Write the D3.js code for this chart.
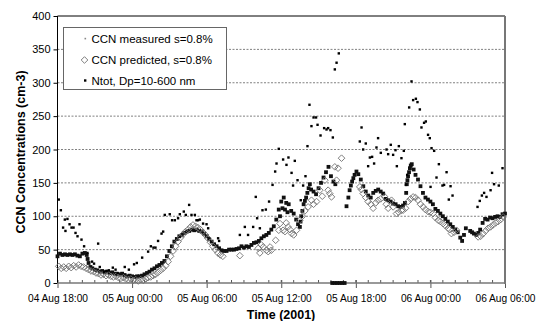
<!DOCTYPE html>
<html>
<head>
<meta charset="utf-8">
<script src="https://cdn.jsdelivr.net/npm/d3@7"></script>
<style>
  body { margin: 0; background: #fff; }
  svg { font-family: "Liberation Sans", Arial, sans-serif; }
</style>
</head>
<body>
<div id="chart"></div>
<script>
// hours after 04 Aug 2001 18:00, value in cm-3
const ccnMeasured = [
  [0.0,40],[0.2,44],[0.4,42],[0.6,43],[0.8,42],[1.0,43],[1.2,42],[1.4,43],[1.6,41],[1.8,40],[2.0,44],[2.2,45],[2.35,42],[2.42,36],[2.5,30],[2.65,24],[2.8,22],
  [3.0,20],[3.2,19],[3.4,17],[3.6,18],[3.8,16],[4.0,17],[4.2,15],[4.4,16],[4.6,14],[4.8,13],[5.0,13],[5.2,14],[5.4,12],[5.6,10],[5.8,11],
  [6.0,10],[6.2,9],[6.4,10],[6.6,10],[6.8,11],[7.0,13],[7.2,15],[7.4,17],[7.6,20],[7.8,22],[8.0,25],[8.2,27],[8.4,30],[8.6,33],[8.8,40],
  [9.0,48],[9.2,55],[9.4,62],[9.6,66],[9.8,70],[10.0,72],[10.2,75],[10.4,77],[10.6,78],[10.8,80],[11.0,79],[11.2,80],[11.4,78],[11.6,77],[11.8,74],
  [12.0,70],[12.2,66],[12.4,62],[12.6,58],[12.8,55],[13.0,52],[13.2,49],[13.4,48],[13.6,48],[13.8,50],[14.0,50],[14.2,50],[14.4,51],[14.6,52],[14.8,55],
  [15.0,53],[15.2,55],[15.4,54],[15.6,57],[15.8,60],[16.0,61],[16.2,63],[16.4,67],[16.6,70],[16.8,72],[17.0,75],[17.2,80],[17.4,85],[17.6,95],[17.8,110],[17.9,100],
  [18.0,122],[18.1,112],[18.2,128],[18.3,110],[18.4,120],[18.5,106],[18.6,118],[18.8,108],[19.0,104],[19.2,95],[19.35,88],[19.5,84],[19.55,92],[19.6,100],[19.7,108],[19.8,118],[19.9,123],
  [20.0,128],[20.1,135],[20.2,142],[20.3,148],[20.4,140],[20.6,137],[20.8,133],[21.0,142],[21.2,150],[21.4,158],[21.6,166],[21.8,174],[22.0,160],[22.2,152],[22.35,148],
  [22.1,0],[22.3,0],[22.5,0],[22.7,0],[22.9,0],[23.1,0],
  [23.25,115],[23.4,128],[23.5,139],[23.6,146],[23.7,152],[23.8,157],[23.9,162],[24.05,167],[24.2,163],[24.4,155],[24.6,145],[24.8,137],
  [25.0,131],[25.2,128],[25.4,135],[25.6,138],[25.8,140],[26.0,137],[26.2,134],[26.4,126],[26.6,124],[26.8,122],[27.0,119],[27.2,118],[27.4,115],[27.6,114],[27.8,116],[27.95,120],
  [28.05,135],[28.1,148],[28.15,154],[28.2,160],[28.28,166],[28.35,172],[28.42,176],[28.5,178],[28.65,170],[28.8,162],[29.0,155],[29.2,145],[29.4,135],[29.6,128],[29.8,125],
  [30.0,122],[30.2,118],[30.4,111],[30.6,108],[30.8,104],[31.0,100],[31.2,96],[31.4,92],[31.6,88],[31.8,84],[32.0,80],[32.2,76],[32.4,68],[32.55,63],[32.7,72],[32.85,82],
  [33.2,78],[33.35,76],[33.5,74],[33.7,72],[33.85,75],[34.0,80],[34.2,90],[34.4,96],[34.6,95],[34.8,98],[35.0,97],[35.2,99],[35.4,100],[35.6,99],[35.8,103],[36.0,104]
];

const ccnPredicted = [
  [0.1,25],[0.3,22],[0.5,24],[0.7,22],[0.9,25],[1.1,23],[1.3,26],[1.5,24],[1.7,27],[1.9,25],[2.1,24],[2.3,22],[2.5,20],[2.7,18],[2.9,17],
  [3.1,15],[3.3,14],[3.5,12],[3.7,13],[3.9,11],[4.1,12],[4.3,10],[4.5,9],[4.7,10],[4.9,8],[5.1,7],[5.3,8],[5.5,6],[5.7,5],[5.9,6],
  [6.1,4],[6.3,5],[6.5,3],[6.7,5],[6.9,4],[7.1,6],[7.3,8],[7.5,9],[7.7,11],[7.9,13],[8.1,16],[8.3,19],[8.5,22],[8.7,26],[8.9,32],
  [9.1,40],[9.3,48],[9.5,55],[9.7,62],[9.9,68],[10.1,73],[10.3,77],[10.5,80],[10.7,84],[10.9,87],[11.1,85],[11.3,83],[11.5,80],[11.7,76],[11.9,72],
  [12.1,67],[12.3,61],[12.5,55],[12.7,50],[12.9,45],[13.1,42],[13.3,40],
  [14.67,41],[16.15,52],[16.28,45],[16.4,57],[16.55,54],[16.8,49],[16.95,47],[17.1,54],[17.2,49],[17.55,64],[17.8,79],[17.9,89],[18.15,79],[18.3,77],
  [18.4,90],[18.55,84],[18.7,80],[18.83,74],[19.0,72],[19.23,79],[19.49,94],[19.7,100],[19.9,108],[20.16,114],[20.43,124],[20.6,118],[20.84,122],
  [21.10,139],[21.3,130],[21.51,154],[21.77,139],[21.9,134],[22.04,129],[22.31,174],[22.45,154],[22.57,172],[22.85,187],
  [24.32,144],[24.45,140],[24.59,134],[24.8,128],[24.99,122],[25.2,118],[25.39,112],[25.6,120],[25.79,124],[26.0,126],[26.33,129],[26.45,118],[26.60,112],[26.87,124],
  [27.0,114],[27.27,104],[27.45,106],[27.67,109],[27.80,109],[28.0,112],[28.21,122],[28.4,126],[28.61,129],[28.8,128],[29.01,124],[29.2,118],[29.41,114],[29.6,110],[29.81,107],
  [30.0,106],[30.21,104],[30.4,98],[30.62,94],[30.8,92],[31.02,89],[31.2,86],[31.42,82],[31.55,80],[31.69,74],[31.9,76],[32.10,79],
  [33.84,69],[34.04,70],[34.24,74],[34.44,78],[34.64,82],[34.84,84],[35.04,87],[35.25,90],[35.45,92],[35.65,95],[35.85,99]
];

const ntot = [
  [0.10,125],[0.27,109],[0.45,83],[0.59,95],[0.64,78],[0.80,96],[0.97,88],[1.13,83],[1.29,83],[1.45,75],[1.61,70],[1.77,88],[1.93,65],
  [2.14,55],[2.41,45],[2.78,32],[2.94,29],[3.27,59],[3.40,24],[3.75,17],[3.94,18],[4.13,19],[4.45,23],[4.67,20],[4.83,15],
  [5.41,24],[5.74,20],[6.16,28],[6.38,30],[6.81,38],[7.29,47],[7.51,55],[7.72,53],[7.88,53],[8.09,63],[8.37,74],[8.50,77],[8.63,102],
  [9.03,103],[9.22,94],[9.44,94],[9.70,97],[9.84,103],[10.16,107],[10.32,102],[10.59,117],[10.78,102],[11.05,102],[11.18,94],[11.31,94],[11.45,95],
  [11.71,89],[11.99,88],[12.12,82],[12.92,67],[13.0,63],[14.67,72],[15.07,84],[15.33,72],[15.74,84],[15.95,129],[16.06,97],[16.28,82],
  [16.49,109],[16.76,110],[17.02,122],[17.30,147],[17.51,167],[17.62,179],[17.80,201],[18.15,185],[18.42,177],[18.58,188],[18.83,165],[18.95,146],
  [19.09,183],[19.31,154],[19.57,124],[19.76,146],[19.95,160],[20.11,205],[20.27,267],[20.43,235],[20.60,248],[20.80,248],[20.92,237],
  [21.16,221],[21.45,232],[21.64,230],[21.77,232],[21.96,229],[22.15,218],[22.31,320],[22.45,330],[22.63,344],
  [24.32,212],[24.46,233],[24.59,200],[24.80,209],[24.99,175],[25.13,188],[25.31,189],[25.47,179],[25.66,203],[25.79,217],[26.01,195],
  [26.47,200],[26.60,193],[26.81,207],[27.0,192],[27.19,199],[27.30,175],[27.46,205],[27.67,187],[27.86,198],[27.94,238],[28.02,147],[28.13,162],
  [28.29,263],[28.48,302],[28.61,274],[28.83,276],[28.96,271],[29.15,260],[29.28,233],[29.49,240],[29.63,242],[29.81,222],[29.95,217],
  [30.01,144],[30.09,202],[30.30,198],[30.49,158],[30.68,178],[30.97,146],[31.10,147],[31.30,166],[31.48,125],[31.62,145],[31.78,131],
  [33.79,114],[33.97,123],[34.14,131],[34.32,135],[34.51,129],[34.84,139],[34.96,165],[35.12,148],[35.50,146],[35.80,172]
];

const yTicks = [0, 50, 100, 150, 200, 250, 300, 350, 400];
const legendLabels = ["CCN measured s=0.8%", "CCN predicted, s=0.8%", "Ntot, Dp=10-600 nm"];

const start = new Date(2001, 7, 4, 18, 0);
const end = new Date(2001, 7, 6, 6, 0);
const toDate = h => new Date(start.getTime() + h * 3600000);

const W = 536, H = 321;
const plot = { left: 57.5, right: 505, top: 16, bottom: 283 };

const svg = d3.select("#chart").append("svg")
  .attr("width", W)
  .attr("height", H);

const x = d3.scaleTime().domain([start, end]).range([plot.left, plot.right]);
const y = d3.scaleLinear().domain([0, 400]).range([plot.bottom, plot.top]);

// grid
svg.append("g")
  .selectAll("line")
  .data(yTicks.filter(d => d > 0 && d < 400))
  .join("line")
  .attr("x1", plot.left).attr("x2", plot.right)
  .attr("y1", d => y(d)).attr("y2", d => y(d))
  .attr("stroke", "#808080")
  .attr("stroke-width", 1)
  .attr("stroke-dasharray", "2,1.5");

// y axis
const yAxis = svg.append("g")
  .attr("transform", `translate(${plot.left},0)`)
  .call(d3.axisLeft(y).tickValues(yTicks).tickSize(4).tickPadding(3));
yAxis.select(".domain").remove();
yAxis.selectAll("text").attr("font-size", 11).attr("fill", "#000").style("font-family", "Liberation Sans, Arial, sans-serif");
yAxis.selectAll("line").attr("stroke", "#000");

// x axis, hourly minor ticks and 6-hourly major
const minor = x.ticks(d3.timeHour.every(1));
svg.append("g")
  .selectAll("line")
  .data(minor)
  .join("line")
  .attr("x1", d => x(d)).attr("x2", d => x(d))
  .attr("y1", plot.bottom - 3).attr("y2", plot.bottom)
  .attr("stroke", "#555");

const xAxis = svg.append("g")
  .attr("transform", `translate(0,${plot.bottom})`)
  .call(d3.axisBottom(x).ticks(d3.timeHour.every(6)).tickFormat(d3.timeFormat("%d %b %H:%M")).tickSize(5).tickPadding(7));
xAxis.select(".domain").remove();
xAxis.selectAll("line").attr("stroke", "#555").attr("y1", -3);
xAxis.selectAll("text").attr("font-size", 10.2).attr("fill", "#000").style("font-family", "Liberation Sans, Arial, sans-serif");

// frame
svg.append("line").attr("x1", plot.left).attr("x2", plot.right).attr("y1", plot.top).attr("y2", plot.top).attr("stroke", "#000");
svg.append("line").attr("x1", plot.left).attr("x2", plot.left).attr("y1", plot.top).attr("y2", plot.bottom).attr("stroke", "#000");
svg.append("line").attr("x1", plot.right).attr("x2", plot.right).attr("y1", plot.top).attr("y2", plot.bottom + 1).attr("stroke", "#777").attr("stroke-width", 2);
svg.append("line").attr("x1", plot.left).attr("x2", plot.right + 1).attr("y1", plot.bottom).attr("y2", plot.bottom).attr("stroke", "#777").attr("stroke-width", 1.6);

// CCN measured
svg.append("g")
  .selectAll("rect")
  .data(ccnMeasured)
  .join("rect")
  .attr("x", d => x(toDate(d[0])) - 1.9)
  .attr("y", d => y(d[1]) - 1.9)
  .attr("width", 3.8).attr("height", 3.8)
  .attr("fill", "#111");

// CCN predicted
const diamond = d3.symbol().type(d3.symbolDiamond2).size(28);
svg.append("g")
  .selectAll("path")
  .data(ccnPredicted)
  .join("path")
  .attr("d", diamond)
  .attr("transform", d => `translate(${x(toDate(d[0]))},${y(d[1])})`)
  .attr("fill", "none")
  .attr("stroke", "#707070")
  .attr("stroke-width", 0.9);

// Ntot
svg.append("g")
  .selectAll("rect")
  .data(ntot)
  .join("rect")
  .attr("x", d => x(toDate(d[0])) - 1.2)
  .attr("y", d => y(d[1]) - 1.2)
  .attr("width", 2.4).attr("height", 2.4)
  .attr("fill", "#000");

// legend
const lg = svg.append("g");
lg.append("rect")
  .attr("x", 63.5).attr("y", 27.5)
  .attr("width", 163).attr("height", 62)
  .attr("fill", "#fff")
  .attr("stroke", "#666");
const rowY = [38.5, 60, 80.5];
legendLabels.forEach((t, i) => {
  lg.append("text")
    .attr("x", 91.5).attr("y", rowY[i])
    .attr("dy", "0.35em")
    .attr("font-size", 11.5)
    .text(t);
});
lg.append("rect").attr("x", 84.5).attr("y", rowY[0] - 0.7).attr("width", 1.6).attr("height", 1.6).attr("fill", "#888");
lg.append("path").attr("d", diamond).attr("transform", `translate(84.5,${rowY[1]})`).attr("fill", "none").attr("stroke", "#707070").attr("stroke-width", 0.9);
lg.append("rect").attr("x", 84).attr("y", rowY[2] - 1.2).attr("width", 2.4).attr("height", 2.4).attr("fill", "#000");

// titles
svg.append("text")
  .attr("transform", "translate(21,152) rotate(-90)")
  .attr("text-anchor", "middle")
  .attr("dy", "0.35em")
  .attr("font-size", 12.5)
  .attr("font-weight", "bold")
  .text("CCN Concentrations (cm-3)");

svg.append("text")
  .attr("x", 281).attr("y", 315)
  .attr("text-anchor", "middle")
  .attr("dy", "0.35em")
  .attr("font-size", 12.5)
  .attr("font-weight", "bold")
  .text("Time (2001)");
</script>
</body>
</html>
